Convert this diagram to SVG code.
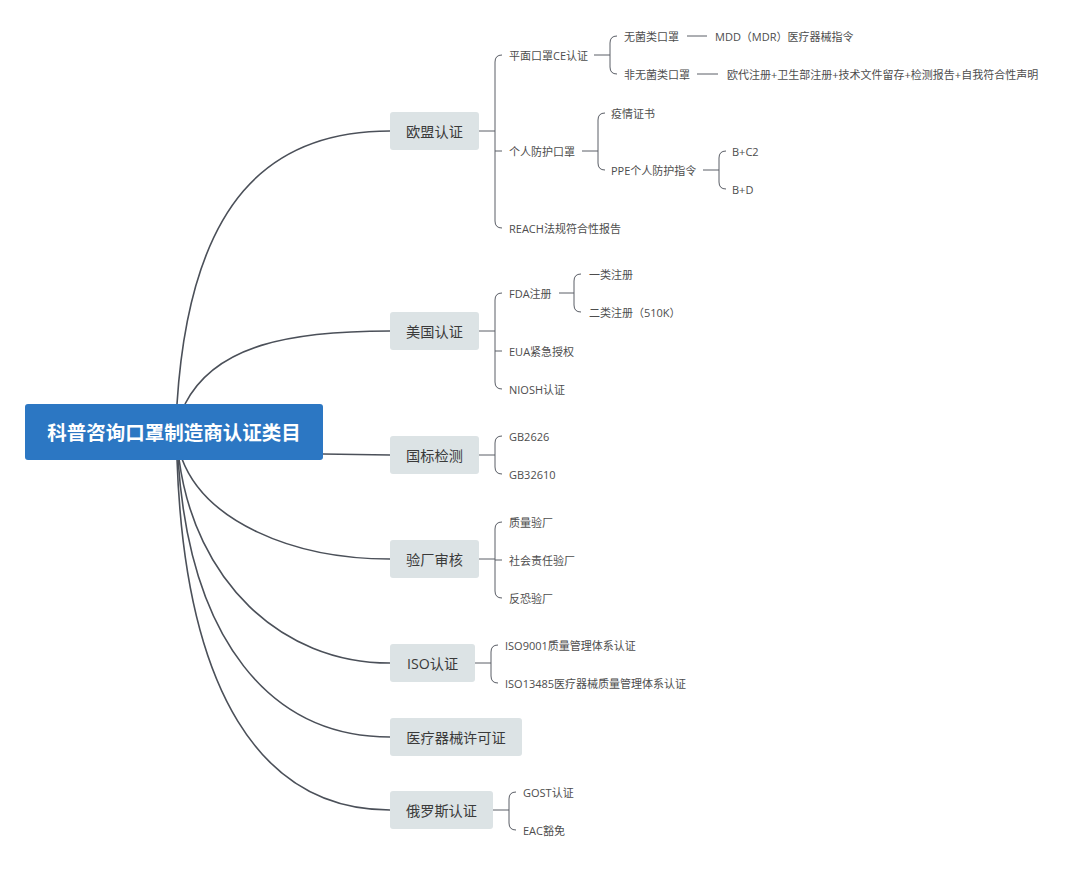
<svg xmlns="http://www.w3.org/2000/svg" width="1080" height="870" viewBox="0 0 1080 870">
<style>
  .bg{fill:#ffffff}
  .root rect{fill:#2c77c3}
  .root text{fill:#ffffff;font-family:"Open Sans","Noto Sans CJK SC",sans-serif;font-size:19.5px;font-weight:bold;text-anchor:middle;dominant-baseline:central}
  .main rect{fill:#dce3e5}
  .main text{fill:#3a3a3a;font-family:"Open Sans","Noto Sans CJK SC",sans-serif;font-size:14.2px;text-anchor:middle;dominant-baseline:central}
  .leaf text{fill:#4d4d4d;font-family:"Open Sans","Noto Sans CJK SC",sans-serif;font-size:11px;dominant-baseline:central}
  .trunk{fill:none;stroke:#4b5059;stroke-width:1.6}
  .br{fill:none;stroke:#5a5e66;stroke-width:1}
</style>
<rect class="bg" x="0" y="0" width="1080" height="870"/>

<g id="connectors">
  <!-- root to main branches -->
  <path class="trunk" d="M177,404 C190,200 270,131 390,131"/>
  <path class="trunk" d="M185,404 C215,345 290,331 390,331"/>
  <path class="trunk" d="M323,454 L390,455"/>
  <path class="trunk" d="M182,459 C205,520 290,559 390,559"/>
  <path class="trunk" d="M179,459 C195,580 280,663 390,663"/>
  <path class="trunk" d="M178,459 C190,640 270,737 390,737"/>
  <path class="trunk" d="M177,459 C185,690 260,810 390,810"/>

  <!-- 欧盟认证 -->
  <path class="br" d="M479,131 H495"/>
  <path class="br" d="M502,55 Q495,55 495,62 V221 Q495,228 502,228"/>
  <path class="br" d="M495,151 H502"/>
  <!-- 平面口罩CE认证 -->
  <path class="br" d="M594,55 H610"/>
  <path class="br" d="M617,36 Q610,36 610,43 V67 Q610,74 617,74"/>
  <path class="br" d="M687,36 H707"/>
  <path class="br" d="M697,74 H718"/>
  <!-- 个人防护口罩 -->
  <path class="br" d="M582,151 H598"/>
  <path class="br" d="M605,113 Q598,113 598,120 V163 Q598,170 605,170"/>
  <!-- PPE -->
  <path class="br" d="M703,170 H719"/>
  <path class="br" d="M726,151 Q719,151 719,158 V182 Q719,189 726,189"/>

  <!-- 美国认证 -->
  <path class="br" d="M479,331 H495"/>
  <path class="br" d="M502,293 Q495,293 495,300 V382 Q495,389 502,389"/>
  <path class="br" d="M495,351 H502"/>
  <path class="br" d="M559,293 H574"/>
  <path class="br" d="M581,274 Q574,274 574,281 V305 Q574,312 581,312"/>

  <!-- 国标检测 -->
  <path class="br" d="M479,455 H495"/>
  <path class="br" d="M502,436 Q495,436 495,443 V467 Q495,474 502,474"/>

  <!-- 验厂审核 -->
  <path class="br" d="M479,559 H495"/>
  <path class="br" d="M502,522 Q495,522 495,529 V591 Q495,598 502,598"/>
  <path class="br" d="M495,560 H502"/>

  <!-- ISO认证 -->
  <path class="br" d="M475,663 H491"/>
  <path class="br" d="M498,645 Q491,645 491,652 V676 Q491,683 498,683"/>

  <!-- 俄罗斯认证 -->
  <path class="br" d="M493,810 H509"/>
  <path class="br" d="M516,792 Q509,792 509,799 V823 Q509,830 516,830"/>
</g>

<g id="root" class="root">
  <rect x="25" y="404" width="298" height="56" rx="3"/>
  <text x="174" y="432">科普咨询口罩制造商认证类目</text>
</g>

<g id="eu" class="main">
  <rect x="390" y="112" width="89" height="38" rx="3"/>
  <text x="434.5" y="131">欧盟认证</text>
</g>
<g id="us" class="main">
  <rect x="390" y="312" width="89" height="38" rx="3"/>
  <text x="434.5" y="331">美国认证</text>
</g>
<g id="gb" class="main">
  <rect x="390" y="436" width="89" height="38" rx="3"/>
  <text x="434.5" y="455">国标检测</text>
</g>
<g id="audit" class="main">
  <rect x="390" y="540" width="89" height="38" rx="3"/>
  <text x="434.5" y="559">验厂审核</text>
</g>
<g id="iso" class="main">
  <rect x="390" y="644" width="85" height="38" rx="3"/>
  <text x="432.5" y="663">ISO认证</text>
</g>
<g id="license" class="main">
  <rect x="390" y="718" width="132" height="38" rx="3"/>
  <text x="456" y="737">医疗器械许可证</text>
</g>
<g id="ru" class="main">
  <rect x="390" y="791" width="103" height="38" rx="3"/>
  <text x="441.5" y="810">俄罗斯认证</text>
</g>

<g id="eu-flat" class="leaf"><text x="509" y="55">平面口罩CE认证</text></g>
<g id="eu-sterile" class="leaf"><text x="624" y="36">无菌类口罩</text></g>
<g id="eu-mdd" class="leaf"><text x="715" y="36">MDD（MDR）医疗器械指令</text></g>
<g id="eu-nonsterile" class="leaf"><text x="624" y="74">非无菌类口罩</text></g>
<g id="eu-reg" class="leaf"><text x="727" y="74">欧代注册+卫生部注册+技术文件留存+检测报告+自我符合性声明</text></g>
<g id="eu-ppe-mask" class="leaf"><text x="509" y="151">个人防护口罩</text></g>
<g id="eu-epidemic" class="leaf"><text x="611" y="113">疫情证书</text></g>
<g id="eu-ppe" class="leaf"><text x="611" y="170">PPE个人防护指令</text></g>
<g id="eu-bc2" class="leaf"><text x="732" y="151">B+C2</text></g>
<g id="eu-bd" class="leaf"><text x="732" y="189">B+D</text></g>
<g id="eu-reach" class="leaf"><text x="509" y="228">REACH法规符合性报告</text></g>

<g id="us-fda" class="leaf"><text x="509" y="293">FDA注册</text></g>
<g id="us-class1" class="leaf"><text x="589" y="274">一类注册</text></g>
<g id="us-class2" class="leaf"><text x="589" y="312">二类注册（510K）</text></g>
<g id="us-eua" class="leaf"><text x="509" y="351">EUA紧急授权</text></g>
<g id="us-niosh" class="leaf"><text x="509" y="389">NIOSH认证</text></g>

<g id="gb-2626" class="leaf"><text x="509" y="436">GB2626</text></g>
<g id="gb-32610" class="leaf"><text x="509" y="474">GB32610</text></g>

<g id="audit-quality" class="leaf"><text x="509" y="522">质量验厂</text></g>
<g id="audit-social" class="leaf"><text x="509" y="560">社会责任验厂</text></g>
<g id="audit-anti" class="leaf"><text x="509" y="598">反恐验厂</text></g>

<g id="iso-9001" class="leaf"><text x="505" y="645">ISO9001质量管理体系认证</text></g>
<g id="iso-13485" class="leaf"><text x="505" y="683">ISO13485医疗器械质量管理体系认证</text></g>

<g id="ru-gost" class="leaf"><text x="523" y="792">GOST认证</text></g>
<g id="ru-eac" class="leaf"><text x="523" y="830">EAC豁免</text></g>
</svg>
